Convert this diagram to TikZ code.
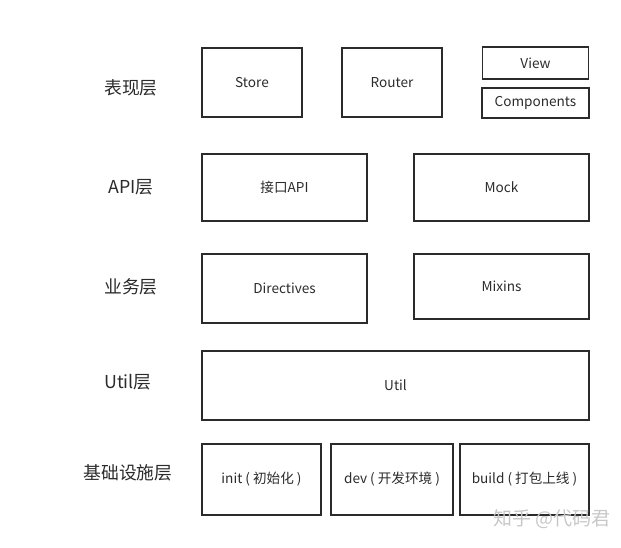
\documentclass[tikz,border=0pt]{standalone}
\usepackage{fontspec}
\setmainfont{Noto Sans CJK SC}
\usepackage{xcolor}
\definecolor{ink}{HTML}{2B2B2B}
\definecolor{mark}{HTML}{C8C8C8}
\tikzset{
  box/.style={draw=ink, line width=1.8pt, text=ink, font=\fontsize{13.6}{15}\selectfont, inner sep=0pt},
  layer/.style={text=ink, font=\fontsize{17.8}{20}\selectfont}
}

\begin{document}
\begin{tikzpicture}[x=1pt, y=-1pt]
\useasboundingbox (0,0) rectangle (621,547);
\node[layer] (lview) at (131,88) {表现层};
\node[layer] (lapi) at (131,187) {API层};
\node[layer] (lbiz) at (131,287) {业务层};
\node[layer] (lutil) at (128,382) {Util层};
\node[layer] (lbase) at (128,473) {基础设施层};
\node[box, minimum width=100pt, minimum height=69pt] (store) at (252,82.5) {Store};
\node[box, minimum width=100pt, minimum height=69pt] (router) at (392,82.5) {Router};
\node[box, minimum width=106pt, minimum height=32pt] (view) at (535.5,63) {View};
\node[box, minimum width=107pt, minimum height=30pt] (comp) at (535.5,103) {Components};
\node[box, minimum width=165pt, minimum height=67pt] (api) at (284.5,187.5) {接口API};
\node[box, minimum width=175pt, minimum height=67pt] (mock) at (501.5,187.5) {Mock};
\node[box, minimum width=165pt, minimum height=69pt] (dir) at (284.5,288.5) {Directives};
\node[box, minimum width=175pt, minimum height=65pt] (mix) at (501.5,286.5) {Mixins};
\node[box, minimum width=387pt, minimum height=69pt] (util) at (395.5,385.5) {Util};
\node[box, minimum width=119pt, minimum height=71pt] (init) at (261.5,479.5) {init ( 初始化 )};
\node[box, minimum width=122pt, minimum height=71pt] (dev) at (392,479.5) {dev ( 开发环境 )};
\node[box, minimum width=129pt, minimum height=71pt] (build) at (524.5,479.5) {build ( 打包上线 )};
\node[text=mark, font=\fontsize{19}{21}\selectfont] (wm) at (552,519) {知乎 @代码君};
\end{tikzpicture}
\end{document}
